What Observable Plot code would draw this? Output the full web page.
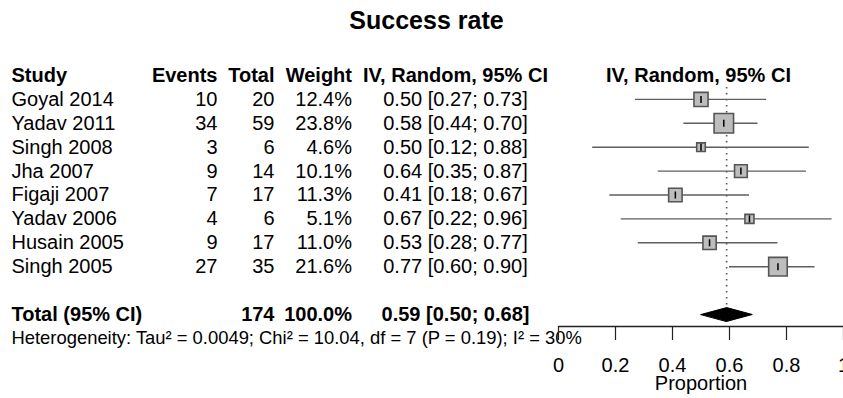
<!DOCTYPE html>
<html>
<head>
<meta charset="utf-8">
<script src="https://cdn.jsdelivr.net/npm/d3@7"></script>
<script src="https://cdn.jsdelivr.net/npm/@observablehq/plot@0.6"></script>
<style>
  html, body { margin: 0; padding: 0; background: #fff; overflow: hidden; }
</style>
</head>
<body>
<div id="chart"></div>
<script>
// ---- data ----
const titleText = "Success rate";
const studies   = ["Goyal 2014", "Yadav 2011", "Singh 2008", "Jha 2007", "Figaji 2007", "Yadav 2006", "Husain 2005", "Singh 2005"];
const events    = [10, 34, 3, 9, 7, 4, 9, 27];
const totals    = [20, 59, 6, 14, 17, 6, 17, 35];
const weights   = [12.4, 23.8, 4.6, 10.1, 11.3, 5.1, 11.0, 21.6];
const estimates = [0.50, 0.58, 0.50, 0.64, 0.41, 0.67, 0.53, 0.77];
const lowers    = [0.27, 0.44, 0.12, 0.35, 0.18, 0.22, 0.28, 0.60];
const uppers    = [0.73, 0.70, 0.88, 0.87, 0.67, 0.96, 0.77, 0.90];
const headerLabels = ["Study", "Events", "Total", "Weight", "IV, Random, 95% CI"];
const pooledLabel = "Total (95% CI)";
const pooledTotal = 174;
const pooledWeight = 100.0;
const pooledEstimate = 0.59;
const pooledLower = 0.50;
const pooledUpper = 0.68;
const hetTau2 = "0.0049", hetChi2 = "10.04", hetDf = 7, hetP = "0.19", hetI2 = 30;
const axisTicks = [0, 0.2, 0.4, 0.6, 0.8, 1];
const axisLabel = "Proportion";

// ---- derived tables ----
const fmt2 = d3.format(".2f");
const fmt1 = d3.format(".1f");
const rows = studies.map((study, i) => ({
  study, events: events[i], total: totals[i], weight: weights[i],
  est: estimates[i], lo: lowers[i], hi: uppers[i], row: i + 1
}));
const headerRow = [{row: 0}];
const totalRowIndex = studies.length + 2;
const totalRow = [{row: totalRowIndex, label: pooledLabel, total: pooledTotal,
  weight: pooledWeight, est: pooledEstimate, lo: pooledLower, hi: pooledUpper}];
const hetRow = [{row: totalRowIndex + 1,
  text: `Heterogeneity: Tau\u00B2 = ${hetTau2}; Chi\u00B2 = ${hetChi2}, df = ${hetDf} (P = ${hetP}); I\u00B2 = ${hetI2}%`}];
const ciText = d => `${fmt2(d.est)} [${fmt2(d.lo)}; ${fmt2(d.hi)}]`;
const diamondHalf = 0.29;
const diamond = [
  {x: pooledLower, y: totalRowIndex},
  {x: pooledEstimate, y: totalRowIndex - diamondHalf},
  {x: pooledUpper, y: totalRowIndex},
  {x: pooledEstimate, y: totalRowIndex + diamondHalf}
];
const axisExtent = [axisTicks[0], axisTicks[axisTicks.length - 1]];

// ---- layout (pixel offsets of table columns relative to the plot frame's left edge) ----
const FONT = "'Liberation Sans', Arial, Helvetica, sans-serif";
const COL = {study: -547, events: -341, total: -284, weight: -206.5, ci: -103};

function colText(data, text, dx, anchor, extra = {}) {
  return Plot.text(data, {y: "row", text, frameAnchor: "left", dx, textAnchor: anchor,
    lineAnchor: "middle", fill: "#000", ...extra});
}
const vtick = {draw(ctx, size) { const h = Math.sqrt(size / Math.PI); ctx.moveTo(0, -h); ctx.lineTo(0, h); }};

const chart = Plot.plot({
  width: 843, height: 398,
  marginLeft: 558, marginRight: 0, marginTop: 0, marginBottom: 72,
  style: {fontFamily: FONT, fontSize: "20px", color: "#000", background: "#fff"},
  x: {domain: [0, 1], axis: null},
  y: {domain: [0, 10], range: [75, 314], axis: null},
  r: {type: "sqrt", domain: [0, 23.8], range: [0, 11]},
  marks: [
    // title
    Plot.text([titleText], {text: d => d, frameAnchor: "top", dx: -274.5, dy: 20, lineAnchor: "middle",
      fontWeight: "bold", fontSize: 25, fill: "#000"}),
    // header row
    colText(headerRow, () => headerLabels[0], COL.study, "start", {fontWeight: "bold"}),
    colText(headerRow, () => headerLabels[1], COL.events, "end", {fontWeight: "bold"}),
    colText(headerRow, () => headerLabels[2], COL.total, "end", {fontWeight: "bold"}),
    colText(headerRow, () => headerLabels[3], COL.weight, "end", {fontWeight: "bold"}),
    colText(headerRow, () => headerLabels[4], COL.ci, "middle", {fontWeight: "bold"}),
    Plot.text(headerRow, {y: "row", text: () => headerLabels[4], frameAnchor: "middle", dx: -2.5,
      lineAnchor: "middle", fontWeight: "bold", fill: "#000"}),
    // study rows
    colText(rows, "study", COL.study, "start"),
    colText(rows, d => String(d.events), COL.events, "end"),
    colText(rows, d => String(d.total), COL.total, "end"),
    colText(rows, d => fmt1(d.weight) + "%", COL.weight, "end"),
    colText(rows, ciText, COL.ci, "middle"),
    // total row
    colText(totalRow, "label", COL.study, "start", {fontWeight: "bold"}),
    colText(totalRow, d => String(d.total), COL.total, "end", {fontWeight: "bold"}),
    colText(totalRow, d => fmt1(d.weight) + "%", COL.weight, "end", {fontWeight: "bold"}),
    colText(totalRow, ciText, COL.ci, "middle", {fontWeight: "bold"}),
    // heterogeneity
    colText(hetRow, "text", COL.study, "start", {fontSize: 18.4}),
    // reference line at pooled estimate
    Plot.ruleX([pooledEstimate], {x: d => d, y1: 0.5, y2: totalRowIndex - diamondHalf,
      stroke: "#555", strokeWidth: 1.6, strokeDasharray: "1.6,4.4"}),
    // confidence intervals
    Plot.ruleY(rows, {y: "row", x1: "lo", x2: "hi", stroke: "#5e5e5e", strokeWidth: 1.4}),
    // weight squares
    Plot.dot(rows, {x: "est", y: "row", r: "weight", symbol: "square", fill: "#bdbdbd", stroke: "#555", strokeWidth: 1.6}),
    // point estimates
    Plot.dot(rows, {x: "est", y: "row", r: 3.5, symbol: vtick, fill: "none", stroke: "#000", strokeWidth: 1.5}),
    // pooled diamond
    Plot.line(diamond, {x: "x", y: "y", curve: "linear-closed", fill: "#000", stroke: "#000", strokeWidth: 1}),
    // x axis line (just below the pooled row), ticks, labels
    Plot.line(axisExtent, {x: d => d, y: () => totalRowIndex, dy: 12, stroke: "#222", strokeWidth: 1.3}),
    Plot.axisX(axisTicks, {anchor: "bottom", tickSize: 14, tickPadding: 17, tickFormat: d => String(d),
      label: null, stroke: "#222", strokeWidth: 1.2, fill: "#000"}),
    // axis label
    Plot.text([axisLabel], {text: d => d, frameAnchor: "bottom", dy: 57, lineAnchor: "middle", fill: "#000"})
  ]
});
document.getElementById("chart").appendChild(chart);
</script>
</body>
</html>
